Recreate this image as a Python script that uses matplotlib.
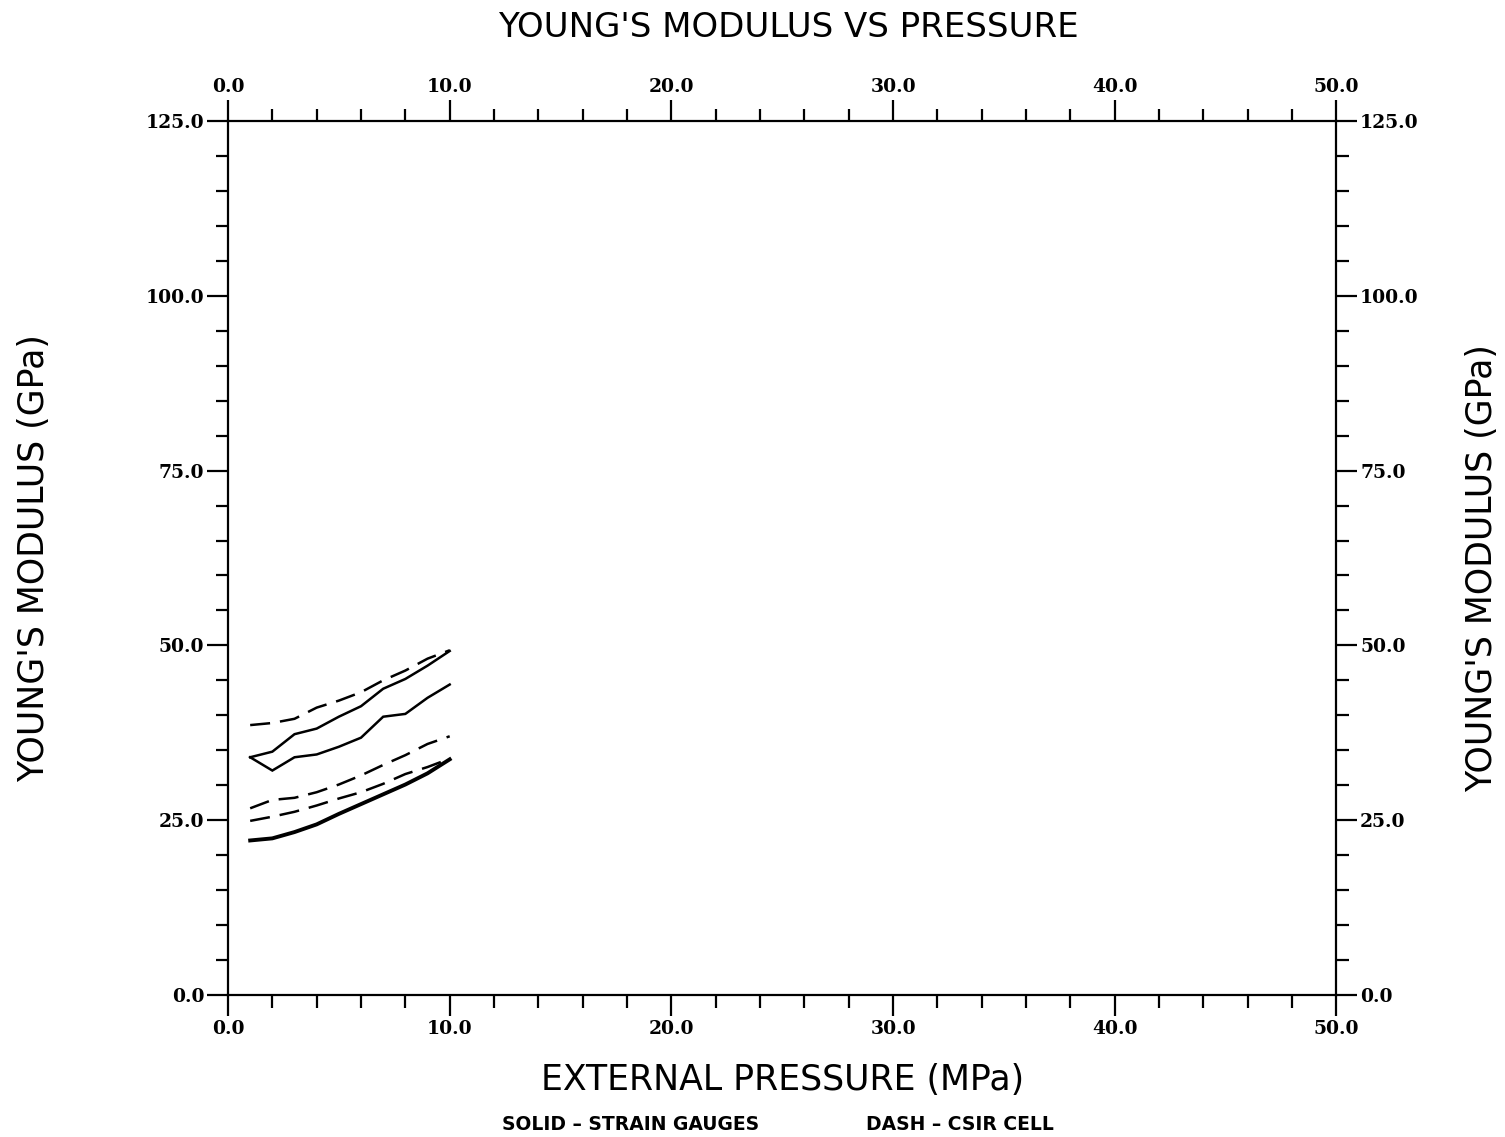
import numpy as np
import matplotlib.pyplot as plt
from matplotlib.ticker import MultipleLocator, FormatStrFormatter

# external pressure (MPa)
pressure = [1, 2, 3, 4, 5, 6, 7, 8, 9, 10]

# strain gauges (solid)
sg_upper = [34.0, 34.8, 37.3, 38.1, 39.8, 41.3, 43.8, 45.2, 47.1, 49.2]
sg_middle = [34.0, 32.1, 34.0, 34.4, 35.5, 36.8, 39.8, 40.2, 42.5, 44.4]
sg_lower = [22.1, 22.4, 23.3, 24.4, 25.9, 27.3, 28.7, 30.1, 31.7, 33.7]

# CSIR cell (dash)
csir_upper = [38.6, 38.9, 39.5, 41.1, 42.1, 43.3, 45.0, 46.4, 48.1, 49.3]
csir_middle = [26.7, 27.9, 28.2, 29.0, 30.1, 31.4, 32.9, 34.3, 35.9, 37.0]
csir_lower = [24.9, 25.5, 26.2, 27.1, 28.1, 29.0, 30.2, 31.6, 32.6, 33.8]

fig = plt.figure(figsize=(15.05, 11.37), dpi=100)
ax = fig.add_axes([0.1515, 0.1249, 0.7365, 0.7687])

for y in [sg_upper, sg_middle]:
    ax.plot(pressure, y, color='black', lw=1.8, solid_joinstyle='miter')
ax.plot(pressure, sg_lower, color='black', lw=2.8)
for y in [csir_upper, csir_middle, csir_lower]:
    ax.plot(pressure, y, color='black', lw=1.8, dashes=(8, 4))

ax.set_xlim(0, 50)
ax.set_ylim(0, 125)
ax.xaxis.set_major_locator(MultipleLocator(10))
ax.xaxis.set_minor_locator(MultipleLocator(2))
ax.yaxis.set_major_locator(MultipleLocator(25))
ax.yaxis.set_minor_locator(MultipleLocator(5))
ax.xaxis.set_major_formatter(FormatStrFormatter('%.1f'))
ax.yaxis.set_major_formatter(FormatStrFormatter('%.1f'))

for s in ax.spines.values():
    s.set_linewidth(1.6)

ax.tick_params(which='both', direction='out', top=True, right=True,
               labeltop=True, labelright=True, width=1.6)
ax.tick_params(which='major', length=15, pad=2)
ax.tick_params(which='minor', length=9)
ax.tick_params(axis='x', which='major', pad=3)
for lab in ax.get_xticklabels() + ax.get_yticklabels():
    lab.set_fontfamily('DejaVu Serif')
    lab.set_fontweight('bold')
    lab.set_fontsize(13.5)

ax.set_xlabel('EXTERNAL PRESSURE (MPa)', fontsize=25, labelpad=18)
ax.set_ylabel("YOUNG'S MODULUS (GPa)", fontsize=25, labelpad=68)
fig.text(0.985, 0.5, "YOUNG'S MODULUS (GPa)", fontsize=25, rotation=90,
         ha='center', va='center')
fig.text(0.524, 0.976, "YOUNG'S MODULUS VS PRESSURE", fontsize=24.5,
         ha='center', va='center')
fig.text(0.419, 0.011, 'SOLID \u2013 STRAIN GAUGES', fontsize=13.5,
         fontweight='bold', ha='center', va='center')
fig.text(0.638, 0.011, 'DASH \u2013 CSIR CELL', fontsize=13.5,
         fontweight='bold', ha='center', va='center')

fig.savefig('out.png', dpi=100)
